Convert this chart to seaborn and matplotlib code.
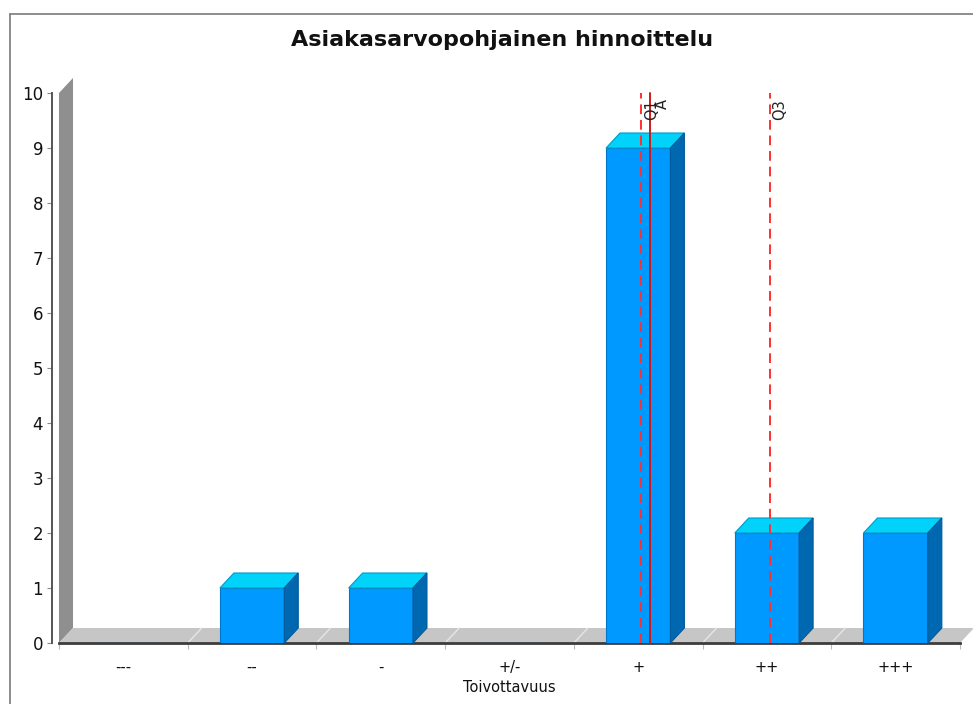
import matplotlib
matplotlib.use("Agg")
import matplotlib.pyplot as plt
import matplotlib.transforms as mtransforms
from matplotlib.lines import Line2D
from matplotlib.patches import Polygon
import pandas as pd
import seaborn as sns

# Data
categories = ["---", "--", "-", "+/-", "+", "++", "+++"]
counts = [0, 1, 1, 0, 9, 2, 2]
marker_labels = ["Q1", "A", "Q3"]
marker_values = [4.02, 4.09, 5.02]
title = "Asiakasarvopohjainen hinnoittelu"
x_label = "Toivottavuus"

sns.set_theme(style="white")
plt.rcParams["font.family"] = ["DejaVu Sans"]

W, H = 973, 704
fig = plt.figure(figsize=(W / 100, H / 100), dpi=100)
fig.patch.set_facecolor("white")

# plot area in pixels
L, R, B, T = 59, 960, 643, 93
ax = fig.add_axes([L / W, (H - B) / H, (R - L) / W, (B - T) / H])
ax.set_facecolor("white")

df = pd.DataFrame({"cat": categories, "count": counts})
sns.barplot(data=df, x="cat", y="count", order=categories, color="#0099ff",
            saturation=1, width=0.5, edgecolor="#0077cc", linewidth=0.8,
            ax=ax, zorder=3)

ax.set_xlim(-0.5, len(categories) - 0.5)
ax.set_ylim(0, 10)

# 3D depth offset, converted from pixels into data units
ppx = (R - L) / len(categories)
ppy = (B - T) / 10
dx = 14 / ppx
dy = 15 / ppy

x_lo, x_hi = -0.5, len(categories) - 0.5
# back wall and floor
ax.add_patch(Polygon([(x_lo, 0), (x_lo, 10), (x_lo + dx, 10 + dy), (x_lo + dx, dy)],
                     closed=True, facecolor="#8f8f8f", edgecolor="none",
                     clip_on=False, zorder=1))
ax.add_patch(Polygon([(x_lo, 0), (x_hi, 0), (x_hi + dx, dy), (x_lo + dx, dy)],
                     closed=True, facecolor="#c6c6c6", edgecolor="none",
                     clip_on=False, zorder=1))
for b in [i + 0.5 for i in range(len(categories) - 1)]:
    ax.plot([b, b + dx], [0, dy], color="#e6e6e6", lw=1, zorder=1.5,
            clip_on=False)

# bar tops and sides
half = 0.25
for i, h in enumerate(counts):
    if h <= 0:
        continue
    l, r = i - half, i + half
    ax.add_patch(Polygon([(l, h), (r, h), (r + dx, h + dy), (l + dx, h + dy)],
                         closed=True, facecolor="#00d2fa", edgecolor="#0099cc",
                         linewidth=0.8, clip_on=False, zorder=3))
    ax.add_patch(Polygon([(r, 0), (r, h), (r + dx, h + dy), (r + dx, dy)],
                         closed=True, facecolor="#0068b0", edgecolor="#005a99",
                         linewidth=0.8, clip_on=False, zorder=3))

# marker lines with rotated labels
for name, v in zip(marker_labels, marker_values):
    if name == "A":
        ax.plot([v, v], [0, 10], color="#cc1a1a", lw=1.4, zorder=4, clip_on=False)
        shift = 5.5
    else:
        ax.plot([v, v], [0, 10], color="#ff3030", lw=1.4, ls=(0, (5, 3)),
                zorder=4, clip_on=False)
        shift = 3
    tr = mtransforms.offset_copy(ax.transData, fig=fig, x=shift, y=-6, units="dots")
    ax.text(v, 10, name, rotation=90, ha="left", va="top", fontsize=10.5,
            color="#222222", transform=tr, zorder=5)

# axes styling
for s in ["top", "right"]:
    ax.spines[s].set_visible(False)
ax.spines["left"].set_position(("outward", 5))
ax.spines["left"].set_color("#555555")
ax.spines["left"].set_linewidth(1.4)
ax.spines["bottom"].set_color("#3c3c3c")
ax.spines["bottom"].set_linewidth(2)
ax.spines["bottom"].set_zorder(2)

ax.set_yticks(range(0, 11))
ax.tick_params(axis="y", length=3.5, width=0.8, color="#888888",
               labelsize=12, pad=3, left=True, labelcolor="#111111")
ax.set_xticks(range(len(categories)))
ax.set_xticklabels(categories)
ax.set_xticks([i - 0.5 for i in range(len(categories) + 1)], minor=True)
ax.tick_params(axis="x", which="major", length=0, labelsize=10.5, pad=12,
               labelcolor="#111111")
ax.tick_params(axis="x", which="minor", length=4, width=0.8, color="#bbbbbb",
               bottom=True)
ax.set_xlabel(x_label, fontsize=10.5, labelpad=4, color="#111111")
ax.set_ylabel("")
ax.grid(False)

fig.text(502 / W, 1 - 40 / H, title, ha="center", va="center",
         fontsize=16, fontweight="bold", color="#111111")

# outer chart border
fig.add_artist(Line2D([10 / W, 10 / W], [0, 1 - 14 / H], color="#7a7a7a", lw=1.2))
fig.add_artist(Line2D([10 / W, 1], [1 - 14 / H, 1 - 14 / H], color="#7a7a7a", lw=1.2))

fig.savefig("out.png", dpi=100, facecolor="white")
